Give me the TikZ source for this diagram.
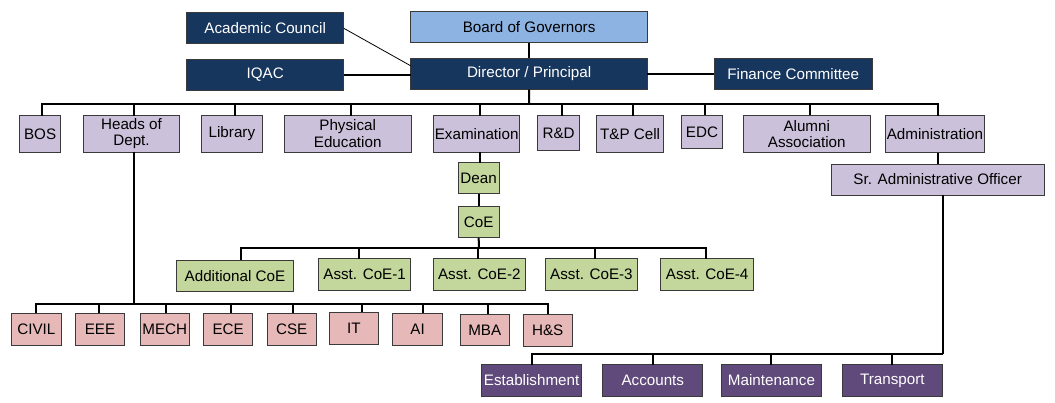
\documentclass[tikz,border=0pt]{standalone}
\usepackage{fontspec}
\setmainfont{Liberation Sans}
\usetikzlibrary{calc}
\definecolor{navy}{HTML}{17365D}
\definecolor{lblue}{HTML}{8DB3E2}
\definecolor{lav}{HTML}{CCC1DA}
\definecolor{lgreen}{HTML}{C3D69B}
\definecolor{lpink}{HTML}{E6B9B8}
\definecolor{purp}{HTML}{604A7B}
\definecolor{edge}{HTML}{3A3A3A}
\newcommand{\bx}[7]{%
 \pgfmathsetmacro{\bxw}{#4-#2}\pgfmathsetmacro{\bxh}{#5-#3}%
 \pgfmathsetmacro{\bxx}{(#2+#4)/2}\pgfmathsetmacro{\bxy}{(#3+#5)/2}%
 \node[#6, minimum width=\bxw pt, minimum height=\bxh pt] (#1) at (\bxx,\bxy) {#7};}
\tikzset{
 box/.style={draw=edge, line width=0.9pt, inner sep=0pt, outer sep=0pt, align=center,
   font=\fontsize{15.2}{16.5}\selectfont},
 navybox/.style={box, fill=navy, text=white},
 bluebox/.style={box, fill=lblue},
 lavbox/.style={box, fill=lav},
 greenbox/.style={box, fill=lgreen},
 pinkbox/.style={box, fill=lpink},
 purpbox/.style={box, fill=purp, text=white},
 conn/.style={draw=black, line width=2pt},
 thinconn/.style={draw=black, line width=0.8pt}
}
\begin{document}
\begin{tikzpicture}[x=1pt,y=-1pt]
\fill[white] (0,0) rectangle (1055,403);
\path[use as bounding box] (0,0) rectangle (1055,403);
% bus coordinates
\coordinate (busA) at (529,104.1);
\coordinate (busC) at (479,248.2);
\coordinate (busD) at (133.9,303.7);
\coordinate (busE) at (943.2,354.4);
% top
\bx{ac}{186.6}{12.8}{343.8}{43.8}{navybox}{Academic Council}
\bx{bog}{410.8}{11.8}{647.4}{42.9}{bluebox}{Board of Governors}
\bx{iqac}{186.6}{59.2}{343.8}{90.4}{navybox}{IQAC}
\bx{dir}{410.8}{58.1}{647.4}{89.6}{navybox}{Director / Principal}
\bx{fin}{714.3}{58.1}{872.2}{89.6}{navybox}{Finance Committee}
% row 1
\bx{bos}{19.3}{115.6}{60.9}{152}{lavbox}{BOS}
\bx{hod}{83.8}{115.6}{179.2}{152}{lavbox}{Heads of\\Dept.}
\bx{lib}{201.5}{115.6}{262.3}{152}{lavbox}{Library}
\bx{phy}{284}{115.6}{411.4}{152}{lavbox}{Physical\\Education}
\bx{exam}{433.7}{115.6}{519.6}{152}{lavbox}{Examination}
\bx{rd}{537.5}{115.6}{579.8}{150.4}{lavbox}{R\&D}
\bx{tp}{596.7}{115.6}{663.6}{152.5}{lavbox}{T\&P Cell}
\bx{edc}{681.2}{115}{722.8}{148.7}{lavbox}{EDC}
\bx{alu}{743}{115}{870.5}{152.8}{lavbox}{Alumni\\Association}
\bx{adm}{885}{115.6}{984.8}{152.8}{lavbox}{Administration}
\bx{sao}{831}{164}{1044.3}{195}{lavbox}{Sr. Administrative Officer}
% examination branch
\bx{dean}{458}{162.7}{499.3}{193.8}{greenbox}{Dean}
\bx{coe}{458}{206.3}{499.3}{237.8}{greenbox}{CoE}
\bx{addl}{176.5}{260}{293.4}{291.5}{greenbox}{Additional CoE}
\bx{a1}{318.5}{258.7}{410.8}{290.2}{greenbox}{Asst. CoE-1}
\bx{a2}{433}{258.7}{525.7}{290.2}{greenbox}{Asst. CoE-2}
\bx{a3}{545.3}{258.7}{637.6}{290.2}{greenbox}{Asst. CoE-3}
\bx{a4}{660.9}{258.7}{753.5}{290.2}{greenbox}{Asst. CoE-4}
% departments
\bx{civil}{11.5}{313.1}{61.2}{345}{pinkbox}{CIVIL}
\bx{eee}{75.4}{313.1}{124.7}{345}{pinkbox}{EEE}
\bx{mech}{140.3}{313.1}{189.3}{345}{pinkbox}{MECH}
\bx{ece}{203.5}{313.1}{252.9}{345}{pinkbox}{ECE}
\bx{cse}{267}{313.1}{316.4}{345}{pinkbox}{CSE}
\bx{it}{329.3}{312}{378.6}{344}{pinkbox}{IT}
\bx{ai}{392.8}{313.1}{442.5}{345}{pinkbox}{AI}
\bx{mba}{460.1}{314}{509.5}{345.6}{pinkbox}{MBA}
\bx{hs}{523}{314.5}{572.3}{346}{pinkbox}{H\&S}
% administration units
\bx{est}{481.7}{364.9}{581.5}{396}{purpbox}{Establishment}
\bx{acc}{602.8}{364.9}{702.8}{396}{purpbox}{Accounts}
\bx{mnt}{721.4}{364.9}{821.5}{396}{purpbox}{Maintenance}
\bx{trn}{842.1}{364.9}{942.5}{396}{purpbox}{Transport}
% top connectors
\draw[thinconn] (ac.east) -- ([yshift=8pt]dir.west);
\draw[conn] (iqac.east) -- (iqac.east -| dir.west);
\draw[conn] (bog.south) -- (dir.north);
\draw[conn] (dir.east) -- (fin.west);
% main bus
\draw[conn] (dir.south) -- (busA);
\draw[conn] ([xshift=1.8pt]bos.north) |- (busA) -| ([xshift=3.2pt]adm.north);
\foreach \n/\s in {hod/2,lib/3,phy/3,exam/3.4,rd/3,tp/3,edc/3,alu/3}
  \draw[conn] ([xshift=\s pt]\n.north) -- ([xshift=\s pt]\n.north |- busA);
% examination chain
\draw[conn] ([xshift=3.4pt]exam.south) -- ([xshift=3.4pt]exam.south |- dean.north);
\draw[conn] (dean.south) -- (coe.north);
\draw[conn] (coe.south) -- (busC);
\draw[conn] ([xshift=5.7pt]addl.north) |- (busC) -| ([xshift=-1.3pt]a4.north);
\foreach \n/\s in {a1/-5.6,a2/-1.6,a3/3.6}
  \draw[conn] ([xshift=\s pt]\n.north) -- ([xshift=\s pt]\n.north |- busC);
% departments
\draw[conn] (busD |- hod.south) -- (busD);
\draw[conn] (civil.north) |- (busD) -| (hs.north);
\foreach \n/\s in {eee/-1.3,mech/0.9,ece/2.7,cse/1.1,it/8,ai/5,mba/3}
  \draw[conn] ([xshift=\s pt]\n.north) -- ([xshift=\s pt]\n.north |- busD);
% administration
\draw[conn] ([xshift=3.2pt]adm.south) -- ([xshift=3.2pt]adm.south |- sao.north);
\draw[conn] (busE |- sao.south) -- (busE);
\draw[conn] (busE) -| (est.north);
\foreach \n in {acc,mnt,trn}
  \draw[conn] (\n.north) -- (\n.north |- busE);
\end{tikzpicture}
\end{document}
